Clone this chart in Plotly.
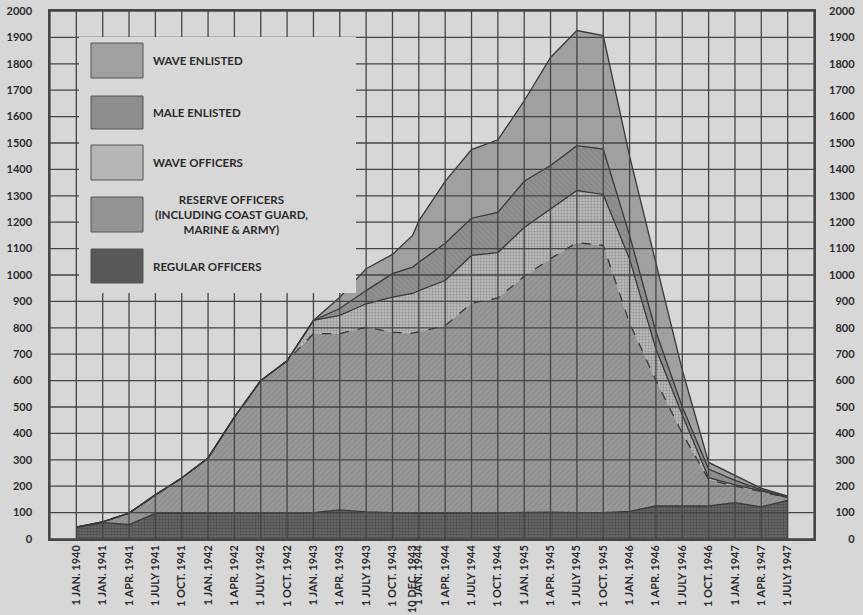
import datetime as dt
import plotly.graph_objects as go

# dates of each reading and the printed tick labels
dates = ["1940-01-01", "1941-01-01", "1941-04-01", "1941-07-01", "1941-10-01",
         "1942-01-01", "1942-04-01", "1942-07-01", "1942-10-01", "1943-01-01",
         "1943-04-01", "1943-07-01", "1943-10-01", "1943-12-10", "1944-01-01",
         "1944-04-01", "1944-07-01", "1944-10-01", "1945-01-01", "1945-04-01",
         "1945-07-01", "1945-10-01", "1946-01-01", "1946-04-01", "1946-07-01",
         "1946-10-01", "1947-01-01", "1947-04-01", "1947-07-01"]
tick_labels = ["1 JAN. 1940", "1 JAN. 1941", "1 APR. 1941", "1 JULY 1941", "1 OCT. 1941",
               "1 JAN. 1942", "1 APR. 1942", "1 JULY 1942", "1 OCT. 1942", "1 JAN. 1943",
               "1 APR. 1943", "1 JULY 1943", "1 OCT. 1943", "10 DEC. 1943", "1 JAN. 1944",
               "1 APR. 1944", "1 JULY 1944", "1 OCT. 1944", "1 JAN. 1945", "1 APR. 1945",
               "1 JULY 1945", "1 OCT. 1945", "1 JAN. 1946", "1 APR. 1946", "1 JULY 1946",
               "1 OCT. 1946", "1 JAN. 1947", "1 APR. 1947", "1 JULY 1947"]

# layer values (stacked bottom to top)
regular_officers = [45, 62, 55, 97, 97, 97, 97, 97, 98, 100, 110, 103, 100, 98, 97,
                    97, 98, 98, 100, 102, 100, 100, 105, 125, 125, 125, 138, 122, 146]
reserve_officers = [0, 3, 43, 70, 134, 210, 365, 503, 577, 678, 668, 699, 683, 682, 688,
                    711, 795, 815, 895, 960, 1023, 1012, 713, 475, 275, 100, 62, 58, 9]
wave_officers = [0, 0, 0, 0, 0, 0, 0, 0, 0, 50, 69, 89, 133, 150, 156,
                 171, 181, 172, 185, 188, 197, 193, 242, 120, 70, 7, 5, 2, 2]
male_enlisted = [0, 0, 0, 0, 0, 0, 0, 0, 0, 0, 26, 50, 89, 100, 107,
                 141, 141, 152, 175, 165, 170, 172, 90, 65, 30, 33, 17, 4, 2]
wave_enlisted = [0, 0, 0, 0, 0, 0, 0, 0, 0, 0, 43, 83, 73, 120, 157,
                 235, 260, 275, 305, 409, 436, 430, 300, 255, 140, 25, 20, 6, 3]

y_ticks = list(range(0, 2001, 100))


def slot(d):
    # quarters from 1 Jan 1941 (=1); 1940 is squeezed into the first column
    d = dt.date.fromisoformat(d)
    months = (d.year - 1941) * 12 + (d.month - 1) + (d.day - 1) / 31
    return max(months / 3 + 1, 0)


x = [slot(d) for d in dates]

BG = "#d7d7d7"
INK = "#2b2b2b"
GRID = "#454545"
FONT = dict(family="Lato, 'DejaVu Sans', sans-serif", size=11, color=INK, weight="bold")

fig = go.Figure()

layers = [
    ("REGULAR OFFICERS", regular_officers, "#636363", dict(shape=".", fgcolor="#4b4b4b", bgcolor="#666666", size=3, solidity=0.4), "solid"),
    ("RESERVE OFFICERS", reserve_officers, "#939393", dict(shape="/", fgcolor="#7f7f7f", bgcolor="#979797", size=4, solidity=0.2), "dash"),
    ("WAVE OFFICERS", wave_officers, "#b4b4b4", dict(shape=".", fgcolor="#929292", bgcolor="#b8b8b8", size=3, solidity=0.3), "solid"),
    ("MALE ENLISTED", male_enlisted, "#8d8d8d", dict(shape="\\", fgcolor="#7c7c7c", bgcolor="#8f8f8f", size=4, solidity=0.2), "solid"),
    ("WAVE ENLISTED", wave_enlisted, "#a0a0a0", None, "solid"),
]

for name, vals, col, pat, dash in layers:
    kw = dict(fillcolor=col)
    if pat:
        kw["fillpattern"] = dict(fillmode="replace", **pat)
    fig.add_trace(go.Scatter(
        x=x, y=vals, name=name, mode="lines", stackgroup="one",
        line=dict(color="#383838", width=1.3, dash=dash),
        showlegend=False, hoverinfo="skip", **kw
    ))

# dummy trace so the right-hand axis is drawn
fig.add_trace(go.Scatter(x=[None], y=[None], yaxis="y2", showlegend=False))

L, R, T, B = 50, 814, 11, 539


def px_x(p):
    return (p - L) / (R - L)


def px_y(p):
    return (B - p) / (B - T)


# graph-paper grid drawn over the shaded areas
shapes = []
for i in range(-1, 29):
    shapes.append(dict(type="line", xref="x", yref="paper", x0=i, x1=i, y0=0, y1=1,
                       layer="above", line=dict(color=GRID, width=1.3)))
for v in y_ticks:
    shapes.append(dict(type="line", xref="paper", yref="y", x0=0, x1=1, y0=v, y1=v,
                       layer="above", line=dict(color=GRID, width=1.3)))

# blank panel behind the key
shapes.append(dict(type="rect", xref="paper", yref="paper", layer="above",
                   x0=px_x(79), x1=px_x(356), y0=px_y(293), y1=px_y(37),
                   fillcolor=BG, line=dict(width=0)))

legend_rows = [
    ("#a0a0a0", 43, 78, ["WAVE ENLISTED"]),
    ("#8d8d8d", 96, 129, ["MALE ENLISTED"]),
    ("#b6b6b6", 145, 180, ["WAVE OFFICERS"]),
    ("#949494", 197, 232, ["RESERVE OFFICERS", "(INCLUDING COAST GUARD,", "MARINE & ARMY)"]),
    ("#585858", 249, 283, ["REGULAR OFFICERS"]),
]
annotations = []
for col, top, bot, text in legend_rows:
    shapes.append(dict(type="rect", xref="paper", yref="paper", layer="above",
                       x0=px_x(91), x1=px_x(143), y0=px_y(bot), y1=px_y(top),
                       fillcolor=col, line=dict(color="#555555", width=1)))
    if len(text) == 1:
        annotations.append(dict(xref="paper", yref="paper", x=px_x(151), y=px_y((top + bot) / 2),
                                text=text[0], showarrow=False, xanchor="left", yanchor="middle",
                                font=dict(FONT, size=11.5)))
    else:
        annotations.append(dict(xref="paper", yref="paper", x=px_x(231), y=px_y((top + bot) / 2),
                                text="<br>".join(text), showarrow=False, xanchor="center",
                                yanchor="middle", align="center",
                                font=dict(FONT, size=11.5)))

# right-hand labels are right-aligned in the original: pad with figure spaces
right_text = ["\u2007" * (4 - len(str(v))) + str(v) for v in y_ticks]

fig.update_layout(
    template="none",
    width=863, height=615,
    margin=dict(l=L, r=863 - R, t=T, b=615 - B, pad=0),
    paper_bgcolor=BG, plot_bgcolor=BG,
    font=FONT,
    shapes=shapes, annotations=annotations,
    xaxis=dict(range=[-1, 28], tickmode="array", tickvals=x, ticktext=tick_labels,
               tickangle=-90, tickfont=dict(FONT, size=11), ticks="",
               showgrid=False, zeroline=False, automargin=False,
               showline=True, linecolor=GRID, linewidth=1.5, mirror=True),
    yaxis=dict(range=[0, 2000], tickvals=y_ticks, ticks="", ticklabelstandoff=14,
               showgrid=False, zeroline=False, automargin=False,
               showline=True, linecolor=GRID, linewidth=1.5, mirror=True),
    yaxis2=dict(range=[0, 2000], tickvals=y_ticks, ticktext=right_text, overlaying="y",
                side="right", ticks="", ticklabelstandoff=14, showgrid=False,
                zeroline=False, showline=False, automargin=False),
)

# the page's default body margin would shift the figure; remove it
fig.write_html("out.html", config={"displayModeBar": False},
               post_script="document.body.style.margin='0';")
